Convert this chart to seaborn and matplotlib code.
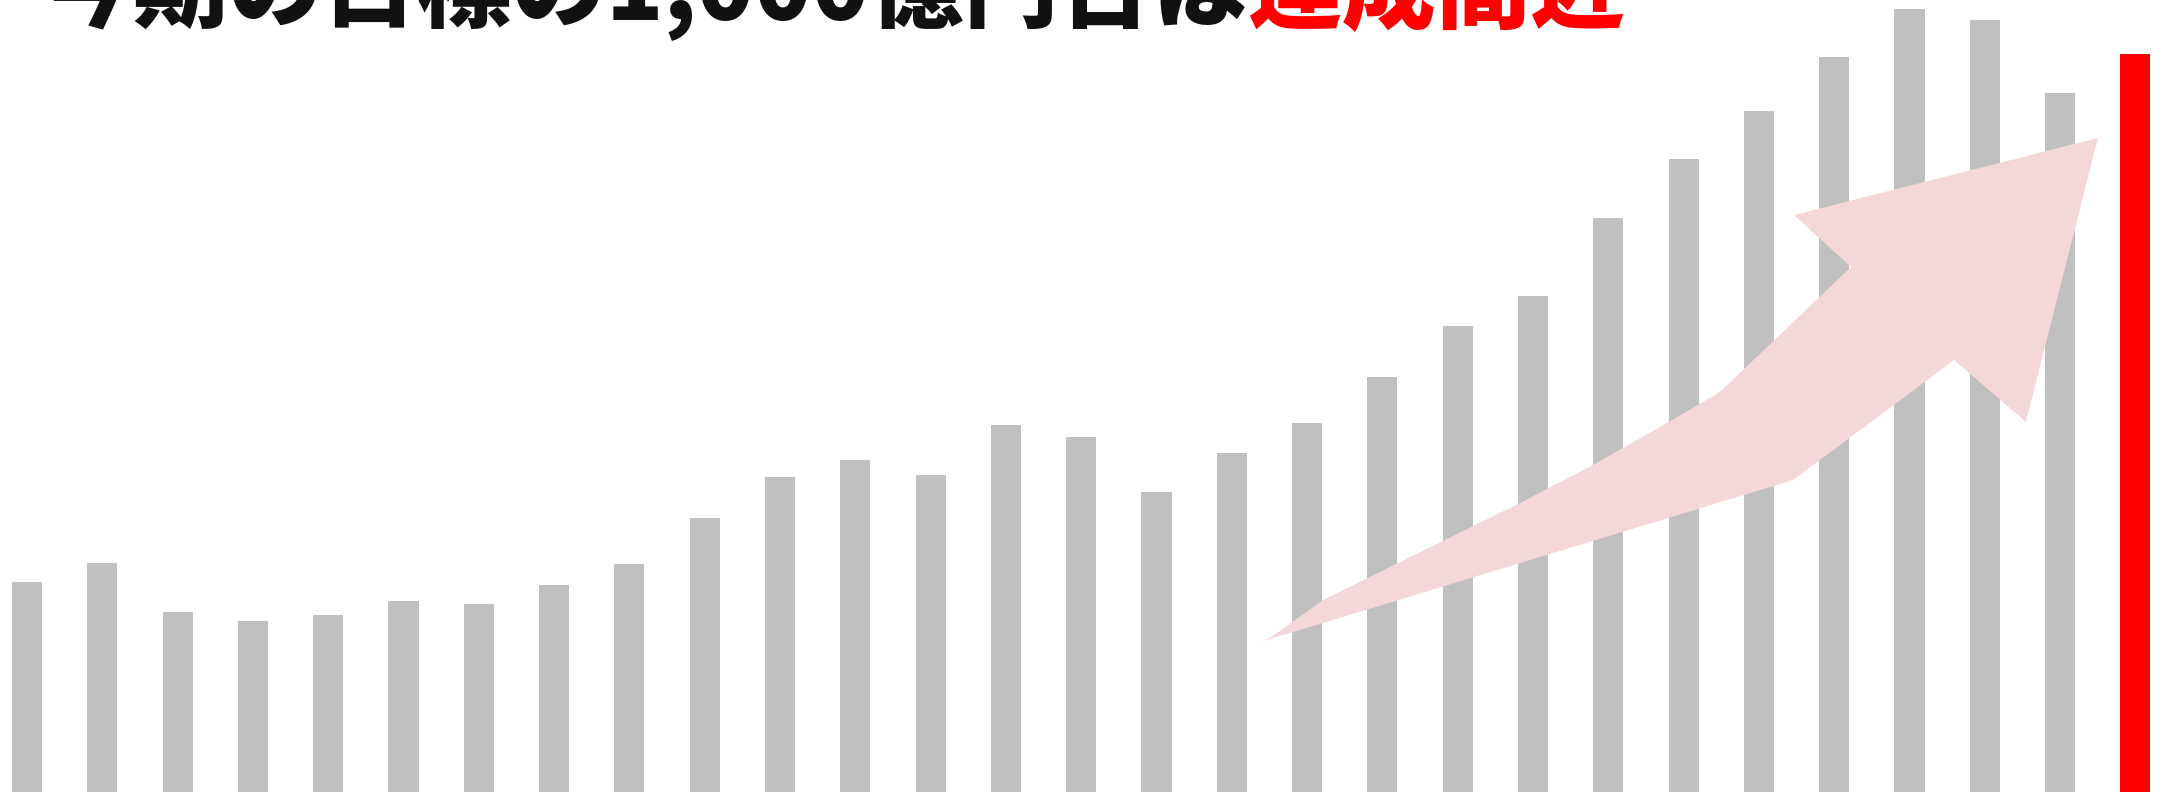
import matplotlib
matplotlib.use("Agg")
import pandas as pd
import seaborn as sns
from matplotlib import pyplot as plt
from matplotlib.patches import Polygon

# bar values (arbitrary units)
periods = [str(i) for i in range(1, 30)]
values = [210, 229, 180, 171, 177, 191, 188, 207, 228, 274,
          315, 332, 317, 367, 355, 300, 339, 369, 415, 466,
          496, 574, 633, 681, 735, 783, 772, 699, 738]
bar_colors = ["#C0C0C0"] * 28 + ["#FF0000"]

title_black = "今期の目標の1,000億円台は"
title_red = "達成間近"

# arrow outline, in axes fractions
arrow_x = [0.5820, 0.5866, 0.6097, 0.6452, 0.7005, 0.7341, 0.7682, 0.7926,
           0.8530, 0.8267, 0.9668, 0.9336, 0.9005, 0.8263, 0.6097]
arrow_y = [0.1907, 0.1970, 0.2424, 0.2904, 0.3649, 0.4129, 0.4659, 0.5051,
           0.6629, 0.7285, 0.8258, 0.4672, 0.5455, 0.3939, 0.2134]

df = pd.DataFrame({"period": periods, "value": values})

sns.set_style("white")
plt.rcParams["font.family"] = ["Noto Sans CJK JP", "DejaVu Sans"]

fig = plt.figure(figsize=(21.7, 7.92), dpi=100)
ax = fig.add_axes([0, 0, 1, 1])

sns.barplot(
    data=df,
    x="period",
    y="value",
    hue="period",
    palette=bar_colors,
    saturation=1,
    width=0.4,
    linewidth=0,
    legend=False,
    ax=ax,
)

ax.set_xlim(-0.359, 28.46)
ax.set_ylim(0, 792)
ax.axis("off")

arrow = Polygon(
    list(zip(arrow_x, arrow_y)),
    closed=True,
    transform=ax.transAxes,
    facecolor="#F4D8D9",
    edgecolor="none",
    zorder=5,
)
ax.add_patch(arrow)

# title sits half out of the top edge, as in the original slide
t1 = fig.text(0.018, 0.975, title_black, fontsize=68, fontweight="black",
              color="#111111", ha="left", va="baseline")
ax.annotate(title_red, xy=(1, 0), xycoords=t1, fontsize=68, fontweight="black",
            color="#FF0000", ha="left", va="bottom")

plt.savefig("out.png", dpi=100)
